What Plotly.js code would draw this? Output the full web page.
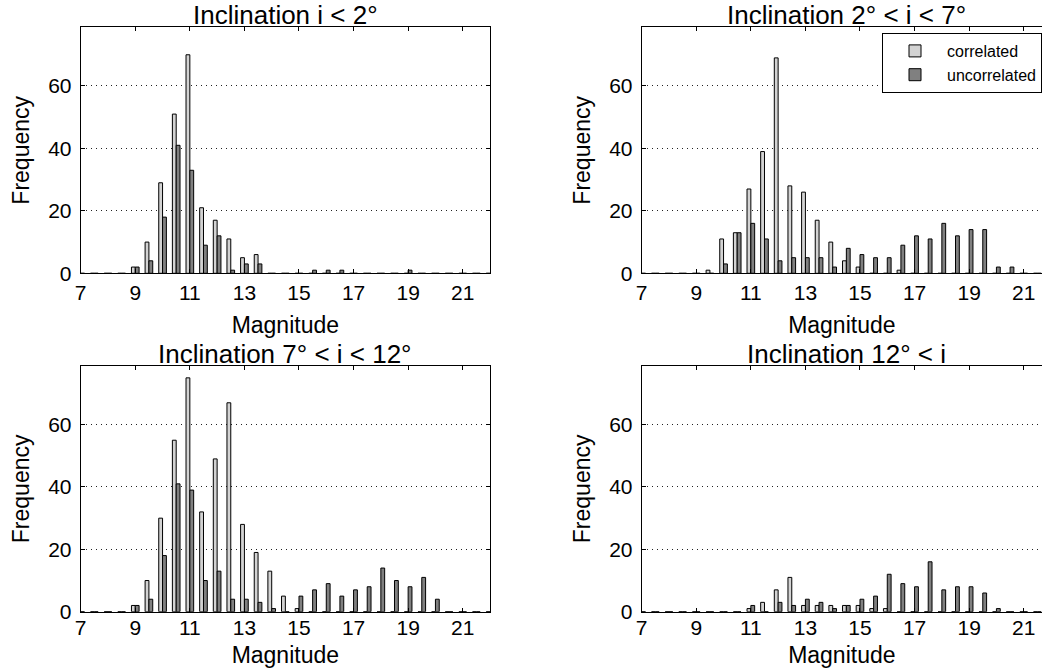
<!DOCTYPE html>
<html>
<head>
<meta charset="utf-8">
<script src="https://cdn.plot.ly/plotly-3.0.1.min.js"></script>
<style>
  html, body { margin: 0; padding: 0; background: #fff; overflow: hidden; }
  #chart { width: 1042px; height: 668px; }
</style>
</head>
<body>
<div id="chart"></div>
<script>
// ---------------- DATA ----------------
const magnitudeBins = [7, 7.5, 8, 8.5, 9, 9.5, 10, 10.5, 11, 11.5, 12, 12.5, 13, 13.5, 14, 14.5,
                       15, 15.5, 16, 16.5, 17, 17.5, 18, 18.5, 19, 19.5, 20, 20.5, 21, 21.5, 22];

const panelTitles = ["Inclination i < 2°", "Inclination 2° < i < 7°",
                     "Inclination 7° < i < 12°", "Inclination 12° < i"];

const seriesNames = ["correlated", "uncorrelated"];

// i < 2°
const correlated1   = [0,0,0,0,2,10,29,51,70,21,17,11,5,6,0,0,0,0,0,0,0,0,0,0,0,0,0,0,0,0,0];
const uncorrelated1 = [0,0,0,0,2,4,18,41,33,9,12,1,3,3,0,0,0,1,1,1,0,0,0,0,1,0,0,0,0,0,0];
// 2° < i < 7°
const correlated2   = [0,0,0,0,0,1,11,13,27,39,69,28,26,17,10,4,2,0,0,1,0,0,0,0,0,0,0,0,0,0,0];
const uncorrelated2 = [0,0,0,0,0,0,3,13,16,11,4,5,5,5,2,8,6,5,5,9,12,11,16,12,14,14,2,2,0,0,0];
// 7° < i < 12°
const correlated3   = [0,0,0,0,2,10,30,55,75,32,49,67,28,19,13,5,1,0,0,0,0,0,0,0,0,0,0,0,0,0,0];
const uncorrelated3 = [0,0,0,0,2,4,18,41,39,10,13,4,4,3,1,0,5,7,9,5,7,8,14,10,8,11,4,0,0,0,0];
// 12° < i
const correlated4   = [0,0,0,0,0,0,0,0,1,3,7,11,2,2,2,2,2,1,1,0,0,0,0,0,0,0,0,0,0,0,0];
const uncorrelated4 = [0,0,0,0,0,0,0,0,2,0,3,2,4,3,1,2,4,5,12,9,8,16,7,8,8,6,1,0,0,0,0];

const xTickVals = [7, 9, 11, 13, 15, 17, 19, 21];
const yTickVals = [0, 20, 40, 60];
const xLabel = "Magnitude";
const yLabel = "Frequency";

// ---------------- LAYOUT HELPERS ----------------
const W = 1042, H = 668;
const FONT = "'Liberation Sans', Arial, Helvetica, sans-serif";
const corrColor = "#d3d3d3", uncColor = "#808080";
const pxX = v => v / W;
const pxY = v => 1 - v / H;
const pxPerUnit = (490 - 80.7) / 15;

// panel pixel boxes [left, right, top, bottom]
const boxes = [
  [80.7, 490, 27.3, 273.3],
  [641.7, 1042, 27.3, 273.3],
  [80.7, 490, 366, 611.7],
  [641.7, 1042, 366, 611.7]
];

const corrSets = [correlated1, correlated2, correlated3, correlated4];
const uncSets = [uncorrelated1, uncorrelated2, uncorrelated3, uncorrelated4];

const traces = [];
const layout = {
  width: W, height: H,
  margin: {l: 0, r: 0, t: 0, b: 0, pad: 0},
  paper_bgcolor: "#fff", plot_bgcolor: "#fff",
  font: {family: FONT, color: "#000"},
  barmode: "group", bargap: 0.44, bargroupgap: 0,
  showlegend: true,
  legend: {
    x: 1, xanchor: "right", y: pxY(33), yanchor: "top",
    bgcolor: "#fff", bordercolor: "#000", borderwidth: 1,
    font: {family: FONT, size: 16, color: "#000"},
    tracegroupgap: 0, itemwidth: 54
  },
  annotations: []
};

for (let k = 0; k < 4; k++) {
  const sfx = k === 0 ? "" : String(k + 1);
  const [l, r, t, b] = boxes[k];
  const rightEdgeClipped = r >= W;
  const bottomRow = k >= 2;
  const xMax = 7 + (r - l) / pxPerUnit;

  traces.push({
    type: "bar", x: magnitudeBins, y: corrSets[k], name: seriesNames[0],
    xaxis: "x" + sfx, yaxis: "y" + sfx,
    marker: {color: corrColor, line: {color: "#000", width: 1}},
    showlegend: k === 1, legendgroup: "c", hoverinfo: "x+y+name"
  });
  traces.push({
    type: "bar", x: magnitudeBins, y: uncSets[k], name: seriesNames[1],
    xaxis: "x" + sfx, yaxis: "y" + sfx,
    marker: {color: uncColor, line: {color: "#000", width: 1}},
    showlegend: k === 1, legendgroup: "u", hoverinfo: "x+y+name"
  });

  layout["xaxis" + sfx] = {
    domain: [pxX(l), pxX(r)], anchor: "y" + sfx,
    range: [7, rightEdgeClipped ? xMax : 22],
    tickmode: "array", tickvals: xTickVals,
    ticks: "inside", ticklen: 4, tickwidth: 1, tickcolor: "#000",
    showline: true, linecolor: "#000", linewidth: 1, mirror: "ticks",
    showgrid: false, zeroline: false, fixedrange: true,
    tickfont: {family: FONT, size: 21, color: "#000"},
    ticklabelstandoff: bottomRow ? -3 : 0,
    title: {text: xLabel, font: {family: FONT, size: 23, color: "#000"}, standoff: bottomRow ? 19 : 14}
  };
  layout["yaxis" + sfx] = {
    domain: [pxY(b), pxY(t)], anchor: "x" + sfx,
    range: [0, 78.8],
    tickmode: "array", tickvals: yTickVals,
    ticks: "inside", ticklen: 4, tickwidth: 1, tickcolor: "#000",
    showline: true, linecolor: "#000", linewidth: 1,
    mirror: rightEdgeClipped ? false : "ticks",
    showgrid: true, gridcolor: "#222", gridwidth: 1, griddash: "1px,4px",
    zeroline: false, fixedrange: true,
    tickfont: {family: FONT, size: 21, color: "#000"},
    ticklabelstandoff: 4,
    title: {text: yLabel, font: {family: FONT, size: 23, color: "#000"}, standoff: 12}
  };

  layout.annotations.push({
    text: panelTitles[k], xref: "paper", yref: "paper",
    x: pxX((l + (k % 2 === 1 ? l + 409.3 : r)) / 2), y: pxY(t),
    xanchor: "center", yanchor: "bottom", yshift: -4, borderpad: 0, showarrow: false,
    font: {family: FONT, size: 26, color: "#000"}
  });
}

Plotly.newPlot("chart", traces, layout, {displayModeBar: false});
</script>
</body>
</html>
